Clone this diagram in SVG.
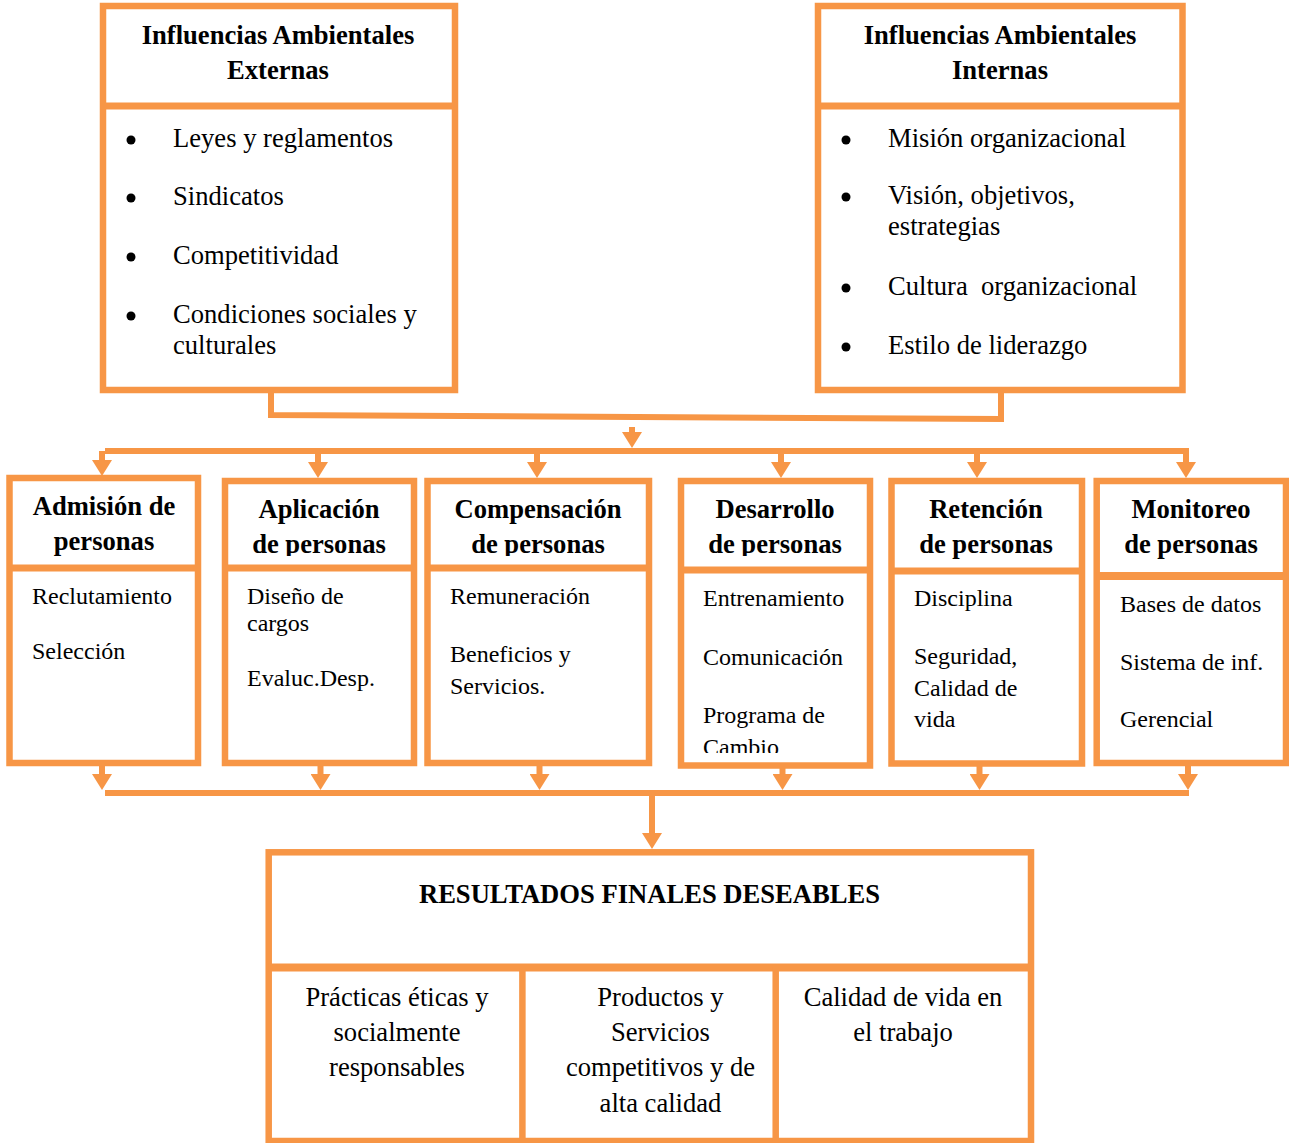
<svg xmlns="http://www.w3.org/2000/svg" width="1289" height="1143" viewBox="0 0 1289 1143">
  <style>
    .box { fill: #ffffff; stroke: #F79646; stroke-width: 6.5; }
    .div { stroke: #F79646; stroke-width: 7; fill: none; }
    .wire { stroke: #F79646; stroke-width: 6; fill: none; }
    .head { font-family: "Liberation Serif", "Times New Roman", serif; font-weight: bold; font-size: 26.6px; fill: #000; text-anchor: middle; }
    .item { font-family: "Liberation Serif", "Times New Roman", serif; font-size: 26.6px; fill: #000; }
    .sub { font-family: "Liberation Serif", "Times New Roman", serif; font-size: 24px; fill: #000; }
    .mid { text-anchor: middle; }
    .dot { fill: #000; }
  </style>
  <defs>
    <marker id="tri" viewBox="0 0 16 20" markerWidth="16" markerHeight="20" refX="0" refY="10" orient="auto" markerUnits="userSpaceOnUse">
      <path d="M0,0 L16,10 L0,20 Z" fill="#F79646"/>
    </marker>
    <clipPath id="clipHead"><rect x="0" y="470" width="1289" height="86"/></clipPath>
    <clipPath id="clipDev"><rect x="681" y="570" width="189" height="183"/></clipPath>
  </defs>

  <!-- external influences -->
  <g id="externas">
    <rect class="box" x="103" y="6" width="352" height="384"/>
    <line class="div" x1="103" y1="106" x2="455" y2="106"/>
    <text class="head" x="278" y="44">Influencias Ambientales</text>
    <text class="head" x="278" y="79">Externas</text>
    <circle class="dot" cx="131" cy="140" r="4.5"/>
    <circle class="dot" cx="131" cy="198" r="4.5"/>
    <circle class="dot" cx="131" cy="257" r="4.5"/>
    <circle class="dot" cx="131" cy="316" r="4.5"/>
    <text class="item" x="173" y="147">Leyes y reglamentos</text>
    <text class="item" x="173" y="205">Sindicatos</text>
    <text class="item" x="173" y="264">Competitividad</text>
    <text class="item" x="173" y="323">Condiciones sociales y</text>
    <text class="item" x="173" y="354">culturales</text>
  </g>

  <!-- internal influences -->
  <g id="internas">
    <rect class="box" x="818" y="6" width="364.5" height="384"/>
    <line class="div" x1="818" y1="106" x2="1182.5" y2="106"/>
    <text class="head" x="1000" y="44">Influencias Ambientales</text>
    <text class="head" x="1000" y="79">Internas</text>
    <circle class="dot" cx="846" cy="140" r="4.5"/>
    <circle class="dot" cx="846" cy="197" r="4.5"/>
    <circle class="dot" cx="846" cy="288" r="4.5"/>
    <circle class="dot" cx="846" cy="347" r="4.5"/>
    <text class="item" x="888" y="147">Misión organizacional</text>
    <text class="item" x="888" y="204">Visión, objetivos,</text>
    <text class="item" x="888" y="235">estrategias</text>
    <text class="item" x="888" y="295" xml:space="preserve">Cultura  organizacional</text>
    <text class="item" x="888" y="354">Estilo de liderazgo</text>
  </g>

  <!-- subsystems -->
  <g id="admision">
    <rect class="box" x="9.5" y="478" width="188.5" height="285"/>
    <line class="div" x1="9.5" y1="568" x2="198" y2="568"/>
    <text class="head" x="104" y="515">Admisión de</text>
    <text class="head" x="104" y="550">personas</text>
    <text class="sub" x="32" y="604">Reclutamiento</text>
    <text class="sub" x="32" y="659">Selección</text>
  </g>

  <g id="aplicacion">
    <rect class="box" x="225" y="481" width="189" height="282"/>
    <line class="div" x1="225" y1="568" x2="414" y2="568"/>
    <text class="head" x="319" y="518">Aplicación</text>
    <text class="head" x="319" y="553" clip-path="url(#clipHead)">de personas</text>
    <text class="sub" x="247" y="604">Diseño de</text>
    <text class="sub" x="247" y="631">cargos</text>
    <text class="sub" x="247" y="686">Evaluc.Desp.</text>
  </g>

  <g id="compensacion">
    <rect class="box" x="427.5" y="481" width="221.5" height="282"/>
    <line class="div" x1="427.5" y1="568" x2="649" y2="568"/>
    <text class="head" x="538" y="518">Compensación</text>
    <text class="head" x="538" y="553" clip-path="url(#clipHead)">de personas</text>
    <text class="sub" x="450" y="604">Remuneración</text>
    <text class="sub" x="450" y="662">Beneficios y</text>
    <text class="sub" x="450" y="694">Servicios.</text>
  </g>

  <g id="desarrollo">
    <rect class="box" x="681" y="481" width="189" height="284.5"/>
    <line class="div" x1="681" y1="570" x2="870" y2="570"/>
    <text class="head" x="775" y="518">Desarrollo</text>
    <text class="head" x="775" y="553" clip-path="url(#clipHead)">de personas</text>
    <g clip-path="url(#clipDev)">
      <text class="sub" x="703" y="606">Entrenamiento</text>
      <text class="sub" x="703" y="665">Comunicación</text>
      <text class="sub" x="703" y="723">Programa de</text>
      <text class="sub" x="703" y="755">Cambio</text>
    </g>
  </g>

  <g id="retencion">
    <rect class="box" x="891.5" y="481" width="190.5" height="282.5"/>
    <line class="div" x1="891.5" y1="571" x2="1082" y2="571"/>
    <text class="head" x="986" y="518">Retención</text>
    <text class="head" x="986" y="553">de personas</text>
    <text class="sub" x="914" y="606">Disciplina</text>
    <text class="sub" x="914" y="664">Seguridad,</text>
    <text class="sub" x="914" y="696">Calidad de</text>
    <text class="sub" x="914" y="727">vida</text>
  </g>

  <g id="monitoreo">
    <rect class="box" x="1096.7" y="481" width="189.3" height="282"/>
    <line class="div" x1="1096.7" y1="576" x2="1286" y2="576" style="stroke-width:8"/>
    <text class="head" x="1191" y="518">Monitoreo</text>
    <text class="head" x="1191" y="553">de personas</text>
    <text class="sub" x="1120" y="612">Bases de datos</text>
    <text class="sub" x="1120" y="670">Sistema de inf.</text>
    <text class="sub" x="1120" y="727">Gerencial</text>
  </g>

  <!-- desired results -->
  <g id="resultados">
    <rect class="box" x="268.7" y="852.3" width="762.3" height="288.7"/>
    <line class="div" x1="268.7" y1="967.5" x2="1031" y2="967.5" style="stroke-width:8"/>
    <line class="div" x1="522.4" y1="967.5" x2="522.4" y2="1141" style="stroke-width:6.5"/>
    <line class="div" x1="775.7" y1="967.5" x2="775.7" y2="1141" style="stroke-width:6.5"/>
    <text class="head" x="649.5" y="903">RESULTADOS FINALES DESEABLES</text>
    <text class="item mid" x="397" y="1006">Prácticas éticas y</text>
    <text class="item mid" x="397" y="1041">socialmente</text>
    <text class="item mid" x="397" y="1076">responsables</text>
    <text class="item mid" x="660.5" y="1006">Productos y</text>
    <text class="item mid" x="660.5" y="1041">Servicios</text>
    <text class="item mid" x="660.5" y="1076">competitivos y de</text>
    <text class="item mid" x="660.5" y="1112">alta calidad</text>
    <text class="item mid" x="903" y="1006">Calidad de vida en</text>
    <text class="item mid" x="903" y="1041">el trabajo</text>
  </g>

  <!-- connectors -->
  <g id="connectors">
    <polyline class="wire" points="271,390 271,415 1001,419 1001,390"/>
    <line class="wire" x1="632" y1="427" x2="632" y2="432" marker-end="url(#tri)"/>
    <line class="wire" x1="105" y1="451" x2="1187" y2="451"/>
    <line class="wire" x1="102" y1="451" x2="102" y2="460" marker-end="url(#tri)"/>
    <line class="wire" x1="318" y1="451" x2="318" y2="462" marker-end="url(#tri)"/>
    <line class="wire" x1="537" y1="451" x2="537" y2="462" marker-end="url(#tri)"/>
    <line class="wire" x1="781" y1="451" x2="781" y2="462" marker-end="url(#tri)"/>
    <line class="wire" x1="977" y1="451" x2="977" y2="462" marker-end="url(#tri)"/>
    <line class="wire" x1="1186" y1="448" x2="1186" y2="462" marker-end="url(#tri)"/>

    <line class="wire" x1="102" y1="766" x2="102" y2="774" marker-end="url(#tri)"/>
    <line class="wire" x1="320.5" y1="766" x2="320.5" y2="774" marker-end="url(#tri)"/>
    <line class="wire" x1="539.5" y1="766" x2="539.5" y2="774" marker-end="url(#tri)"/>
    <line class="wire" x1="782.5" y1="768" x2="782.5" y2="774" marker-end="url(#tri)"/>
    <line class="wire" x1="979.5" y1="766" x2="979.5" y2="774" marker-end="url(#tri)"/>
    <line class="wire" x1="1188" y1="766" x2="1188" y2="774" marker-end="url(#tri)"/>
    <line class="wire" x1="105" y1="793" x2="1189" y2="793"/>
    <line class="wire" x1="652" y1="793" x2="652" y2="833" marker-end="url(#tri)"/>
  </g>
</svg>
